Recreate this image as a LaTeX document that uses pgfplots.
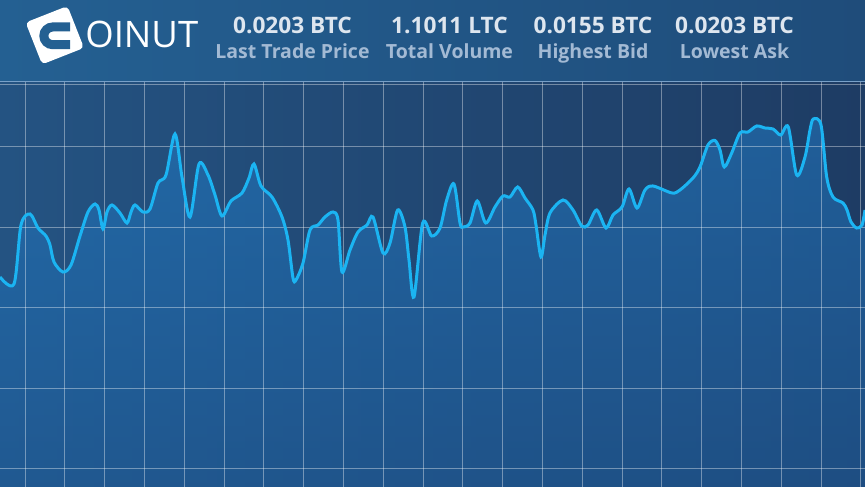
\documentclass[border=0pt]{standalone}
\usepackage{pgfplots}
\pgfplotsset{compat=1.18}
\usepackage{fontspec}
\setmainfont{Open Sans}
\definecolor{hdrL}{RGB}{36,96,146}
\definecolor{hdrR}{RGB}{31,76,122}
\definecolor{bgL}{RGB}{36,83,130}
\definecolor{bgR}{RGB}{30,60,100}
\definecolor{fillT}{RGB}{34,128,205}
\definecolor{fillB}{RGB}{30,95,160}
\definecolor{lineC}{RGB}{27,180,242}
\definecolor{numC}{RGB}{222,230,239}
\definecolor{labC}{RGB}{163,186,212}
\definecolor{sepC}{RGB}{120,160,200}
\begin{document}
\begin{tikzpicture}
\begin{axis}[
  set layers,
  x=0.6pt, y=0.6pt,
  xmin=0, xmax=865, ymin=0, ymax=405,
  enlargelimits=false,
  clip=false,
  axis line style={draw=none},
  xtick={25,64.8,...,862},
  ytick={18,98.5,179,259.5,340,402},
  xticklabels={}, yticklabels={},
  major tick length=0pt,
  grid=major,
  major grid style={white, opacity=0.38, line width=0.6pt},
  axis background/.style={shade, left color=bgL, right color=bgR},
]
\addplot[on layer=axis background, draw=none, smooth, tension=0.5,
  top color=fillT, bottom color=fillB, fill opacity=0.5] coordinates {
(0,210)(14,203)(21,262)(30,273)(38,259)(46,251)(50,242)(54,225)(63,215)(71,222)
(80,251)(88,275)(95,283)(99,277)(103,258)(107,275)(112,282)(120,274)(127,264)(131,275)
(135,282)(143,275)(150,278)(158,304)(166,312)(175,353)(182,310)(190,270)(199,323)(208,312)
(215,292)(222,271)(231,286)(242,294)(249,309)(254,323)(261,301)(272,290)(282,270)(288,247)
(293,209)(296,207)(303,224)(310,257)(318,262)(325,270)(333,275)(338,267)(342,215)(350,237)
(358,255)(367,262)(373,270)(383,234)(390,244)(397.7,277)(405,260)(409,227)(414,190)(422.7,264)
(431.7,251)(440,259)(446.7,287)(454,303)(460,264)(463.3,260)(470,264)(477.3,286)(485.7,264)(495,280)
(503,291)(510,290)(517.7,300)(525,289)(533,277)(536,262)(541,230)(545,252)(550,274)(563,287)
(573,277)(581.7,261)(588,262)(596.7,277)(606,259)(613,272)(622,280)(629,298)(637,279)(645,297)
(653,301)(672,294)(680,297)(693,309)(700,320)(708,342)(715,346.5)(720,337)(724.3,320)(731.7,334)
(740,354)(748,355)(756.7,361)(765,359)(773,358)(780.7,352)(788.3,360)(796.7,312)(805,330)(810,357)
(813.3,368)(821,362)(826.7,310)(833,290)(843,284)(847,277)(851,265)(856.7,259)(862,262)(865,277)
} \closedcycle;
\addplot[lineC, line width=1.8pt, smooth, tension=0.5] coordinates {
(0,210)(14,203)(21,262)(30,273)(38,259)(46,251)(50,242)(54,225)(63,215)(71,222)
(80,251)(88,275)(95,283)(99,277)(103,258)(107,275)(112,282)(120,274)(127,264)(131,275)
(135,282)(143,275)(150,278)(158,304)(166,312)(175,353)(182,310)(190,270)(199,323)(208,312)
(215,292)(222,271)(231,286)(242,294)(249,309)(254,323)(261,301)(272,290)(282,270)(288,247)
(293,209)(296,207)(303,224)(310,257)(318,262)(325,270)(333,275)(338,267)(342,215)(350,237)
(358,255)(367,262)(373,270)(383,234)(390,244)(397.7,277)(405,260)(409,227)(414,190)(422.7,264)
(431.7,251)(440,259)(446.7,287)(454,303)(460,264)(463.3,260)(470,264)(477.3,286)(485.7,264)(495,280)
(503,291)(510,290)(517.7,300)(525,289)(533,277)(536,262)(541,230)(545,252)(550,274)(563,287)
(573,277)(581.7,261)(588,262)(596.7,277)(606,259)(613,272)(622,280)(629,298)(637,279)(645,297)
(653,301)(672,294)(680,297)(693,309)(700,320)(708,342)(715,346.5)(720,337)(724.3,320)(731.7,334)
(740,354)(748,355)(756.7,361)(765,359)(773,358)(780.7,352)(788.3,360)(796.7,312)(805,330)(810,357)
(813.3,368)(821,362)(826.7,310)(833,290)(843,284)(847,277)(851,265)(856.7,259)(862,262)(865,277)
};
\coordinate (TL) at (axis cs:0,487);
\coordinate (BR) at (axis cs:865,0);
\end{axis}
\begin{scope}[shift={(TL)}, x=0.6pt, y=-0.6pt]
  \shade[left color=hdrL, right color=hdrR] (0,0) rectangle (865,81.5);
  \draw[sepC, line width=0.6pt] (0,81.5) -- (865,81.5);
  % logo
  \node[fill=white, rounded corners=2.5pt, minimum size=27pt, inner sep=0pt, rotate=21.5] at (54.8,35.2) {};
  \draw[hdrL, line width=5.4pt] (70,27) -- (52.7,27) arc[start angle=270, end angle=90, radius=8.85] -- (70,44.7);
  \node[anchor=base west, inner sep=0pt, text=white, font=\fontsize{21.9pt}{24pt}\selectfont] at (85,47.3) {OINUT};
  % stats
  \foreach \cx/\num/\lab in {292.5/0.0203 BTC/Last Trade Price, 449.5/1.1011 LTC/Total Volume, 593/0.0155 BTC/Highest Bid, 734.5/0.0203 BTC/Lowest Ask}{
    \node[anchor=base, inner sep=0pt, text=numC, font=\fontsize{13.6pt}{15pt}\selectfont\bfseries] at (\cx,34) {\num};
    \node[anchor=base, inner sep=0pt, text=labC, font=\fontsize{11.7pt}{13pt}\selectfont\bfseries] at (\cx,58.3) {\lab};
  }
\end{scope}
\pgfresetboundingbox
\path[use as bounding box] (TL) rectangle (BR);
\end{tikzpicture}
\end{document}
